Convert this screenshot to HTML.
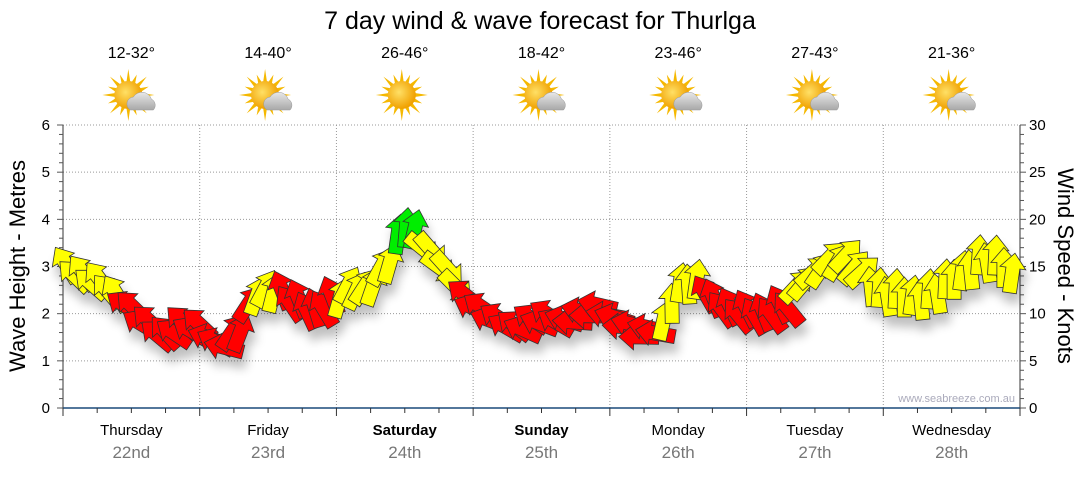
<!DOCTYPE html>
<html><head><meta charset="utf-8"><style>
body{margin:0;background:#fff;width:1080px;height:475px;overflow:hidden;font-family:"Liberation Sans",sans-serif;}
</style></head><body>
<svg id="s" width="1080" height="475" xmlns="http://www.w3.org/2000/svg" font-family="Liberation Sans, sans-serif">
<defs>
<filter id="sh" x="-20%" y="-20%" width="140%" height="160%"><feGaussianBlur in="SourceAlpha" stdDeviation="5"/><feOffset dx="3" dy="10"/><feComponentTransfer><feFuncA type="linear" slope="0.25"/></feComponentTransfer><feMerge><feMergeNode/><feMergeNode in="SourceGraphic"/></feMerge></filter>
<radialGradient id="sun" cx="0.4" cy="0.4" r="0.6"><stop offset="0" stop-color="#ffe066"/><stop offset="1" stop-color="#f0a000"/></radialGradient>
<linearGradient id="cl" x1="0" y1="0" x2="0" y2="1"><stop offset="0" stop-color="#e8e8e8"/><stop offset="1" stop-color="#a8a8a8"/></linearGradient>
</defs>
<text x="540" y="29" font-size="25" text-anchor="middle">7 day wind &amp; wave forecast for Thurlga</text>
<g id="grid" stroke="#999" stroke-dasharray="1,2" stroke-width="1"></g>
<g id="ax"></g>
<g id="arrows" filter="url(#sh)" stroke="#333" stroke-width="0.8"></g>
<text x="1015" y="402" font-size="11" fill="#aab" text-anchor="end">www.seabreeze.com.au</text>
<text transform="translate(25,266) rotate(-90)" font-size="22" text-anchor="middle">Wave Height - Metres</text>
<text transform="translate(1058,266) rotate(90)" font-size="22" text-anchor="middle">Wind Speed - Knots</text>
<g id="days" font-size="15" text-anchor="middle"></g>
</svg>
<script>
var NS="http://www.w3.org/2000/svg";
function el(p,t,a,txt){var e=document.createElementNS(NS,t);for(var k in a)e.setAttribute(k,a[k]);if(txt!=null)e.textContent=txt;p.appendChild(e);return e;}
var g=document.getElementById('grid'),ax=document.getElementById('ax'),dy=document.getElementById('days'),s=document.getElementById('s');
var L=63,R=1020,T=125,B=408,dw=(R-L)/7;
for(var i=1;i<=6;i++){var y=B-i*47.17;el(g,'line',{x1:L,x2:R,y1:y,y2:y});}
for(var d=1;d<7;d++){var x=L+d*dw;el(g,'line',{x1:x,x2:x,y1:T,y2:B});}
el(ax,'line',{x1:L,x2:L,y1:T,y2:B,stroke:'#333'});
el(ax,'line',{x1:R,x2:R,y1:T,y2:B,stroke:'#333'});
el(ax,'line',{x1:L,x2:R,y1:B,y2:B,stroke:'#1a4a7a','stroke-width':1.5});
for(var i=0;i<=30;i++){var y=B-i*9.433;var big=i%5==0;
el(ax,'line',{x1:L-(big?6:4),x2:L,y1:y,y2:y,stroke:'#555'});
el(ax,'line',{x1:R,x2:R+(big?6:4),y1:y,y2:y,stroke:'#555'});
if(big){el(ax,'text',{x:L-13,y:y+5,'font-size':15,'text-anchor':'end'},i/5);el(ax,'text',{x:R+9,y:y+5,'font-size':15},i);}}
for(var i=0;i<=28;i++){var x=L+i*dw/4;el(ax,'line',{x1:x,x2:x,y1:B,y2:B+(i%4==0?8:5),stroke:'#333'});}
var names=['Thursday','Friday','Saturday','Sunday','Monday','Tuesday','Wednesday'],dates=['22nd','23rd','24th','25th','26th','27th','28th'],temps=['12-32°','14-40°','26-46°','18-42°','23-46°','27-43°','21-36°'];
for(var d=0;d<7;d++){var cx=L+(d+0.5)*dw;
var a={x:cx,y:435};if(d==2||d==3)a['font-weight']='bold';el(dy,'text',a,names[d]);
el(dy,'text',{x:cx,y:458,fill:'#777','font-size':17},dates[d]);
el(dy,'text',{x:cx,y:58,'font-size':16},temps[d]);
var ig=el(s,'g',{transform:'translate('+(cx-3)+',95)'});
for(var k=0;k<16;k++){var an=k*Math.PI/8,r1=13,r2=k%2?22:26;el(ig,'polygon',{points:(Math.cos(an-0.15)*r1)+','+(Math.sin(an-0.15)*r1)+' '+(Math.cos(an)*r2)+','+(Math.sin(an)*r2)+' '+(Math.cos(an+0.15)*r1)+','+(Math.sin(an+0.15)*r1),fill:'#f5b800'});}
el(ig,'circle',{cx:0,cy:0,r:14,fill:'url(#sun)'});
if(d!=2){el(ig,'path',{d:'M2,15 a7,7 0 0 1 3,-13 a10,10 0 0 1 18,2 a7,7 0 0 1 2,11 z',fill:'url(#cl)',stroke:'#999','stroke-width':0.5});}
}
var path=[[63,262],[80,275],[100,285],[120,295],[140,320],[160,335],[180,325],[200,330],[220,345],[240,330],[255,295],[270,285],[290,300],[310,310],[330,300],[350,290],[370,285],[390,260],[400,235],[410,220],[420,240],[440,265],[460,290],[480,310],[500,325],[520,325],[540,320],[560,320],[580,315],[600,310],[620,320],[640,335],[660,330],[675,290],[690,280],[710,295],[730,310],[750,315],[770,310],[790,305],[800,285],[820,265],[840,258],[860,268],[880,292],[900,295],[920,295],[940,290],[960,272],[980,258],[1000,262],[1020,280]];
function py(x){for(var i=1;i<path.length;i++)if(x<=path[i][0]){var a=path[i-1],b=path[i];return a[1]+(b[1]-a[1])*(x-a[0])/(b[0]-a[0]);}return 280;}
function col(x){if(x<122)return'#ffff00';if(x<255)return'#ff0000';if(x<395)return(x>275&&x<335)?'#ff0000':'#ffff00';if(x<418)return'#00ee00';if(x<458)return'#ffff00';if(x<662)return'#ff0000';if(x<702)return'#ffff00';if(x<792)return'#ff0000';return'#ffff00';}
function ang(x){if(x<122)return -40;if(x<200)return -50;if(x<230)return -70;if(x<255)return 30;if(x<275)return 20;if(x<335)return -25;if(x<395)return 25;if(x<418)return 5;if(x<458)return 135;if(x<560)return -60;if(x<662)return -80;if(x<702)return 5;if(x<792)return -30;if(x<865)return 40;return 0;}
var A=document.getElementById('arrows');var n=0;
for(var x=66;x<=1016;x+=8.3){var y=py(x)+[0,5,-4,3,-6,2][n%6];n++;
el(A,'polygon',{points:'0,-20 13,-5 7,-5 7,20 -7,20 -7,-5 -13,-5',fill:col(x),transform:'translate('+x.toFixed(1)+','+y.toFixed(1)+') rotate('+(ang(x)+[0,8,-6,4,-9,3][n%6])+')'});}
</script>
</body></html>
